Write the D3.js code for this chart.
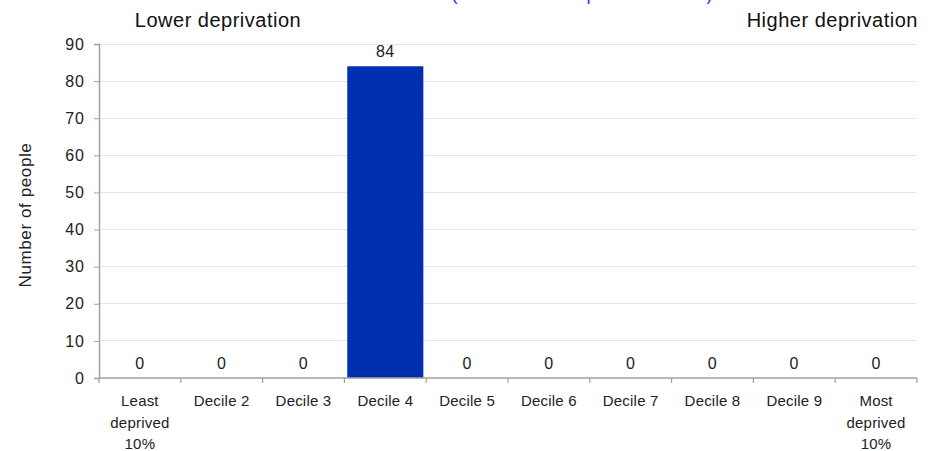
<!DOCTYPE html>
<html>
<head>
<meta charset="utf-8">
<script src="https://cdn.jsdelivr.net/npm/d3@7"></script>
<style>
  body { margin: 0; background: #fff; }
  svg { display: block; font-family: Arial, "Liberation Sans", sans-serif; }
</style>
</head>
<body>
<svg id="chart" width="930" height="451"></svg>
<script>
const categories = [
  ["Least", "deprived", "10%"],
  ["Decile 2"], ["Decile 3"], ["Decile 4"], ["Decile 5"], ["Decile 6"],
  ["Decile 7"], ["Decile 8"], ["Decile 9"],
  ["Most", "deprived", "10%"]
];
const values = [0, 0, 0, 84, 0, 0, 0, 0, 0, 0];
const yTicks = [0, 10, 20, 30, 40, 50, 60, 70, 80, 90];
const yLabel = "Number of people";
const leftNote = "Lower deprivation";
const rightNote = "Higher deprivation";
const clippedTitle = "(National IMD deprivation decile)";

const svg = d3.select("#chart");
const margin = { left: 99, right: 13, top: 44, bottom: 73 };
const W = 930, H = 451;

const n = categories.length;
const xEdge = d3.scaleLinear().domain([0, n]).range([margin.left, W - margin.right]);
const x = d3.scaleBand().domain(d3.range(n)).range([margin.left, W - margin.right])
  .paddingInner(0.07).paddingOuter(0.035);
const y = d3.scaleLinear().domain([0, 90]).range([H - margin.bottom, margin.top]);
const axisColor = "#a0a0a0";

// gridlines
svg.append("g").selectAll("line").data(yTicks.filter(t => t > 0)).join("line")
  .attr("x1", margin.left).attr("x2", W - margin.right)
  .attr("y1", d => y(d)).attr("y2", d => y(d))
  .attr("stroke", "#e6e6e6").attr("stroke-width", 1).attr("shape-rendering", "crispEdges");

// bars
svg.append("g").selectAll("rect").data(values).join("rect")
  .attr("x", (d, i) => x(i))
  .attr("width", x.bandwidth())
  .attr("y", d => y(d))
  .attr("height", d => y(0) - y(d))
  .attr("fill", "#0030b0");

// y axis
const yAxis = d3.axisLeft(y).tickValues(yTicks).tickSize(5).tickPadding(9);
const gy = svg.append("g").attr("transform", `translate(${margin.left},0)`).call(yAxis);
gy.select(".domain").attr("stroke", axisColor).attr("stroke-width", 1.5);
gy.selectAll(".tick line").attr("stroke", axisColor);
gy.selectAll("text").attr("font-size", 16).attr("letter-spacing", 1).attr("fill", "#222")
  .attr("font-family", "Arial, 'Liberation Sans', sans-serif");

// x axis with tick marks at category boundaries
const gx = svg.append("g").attr("transform", `translate(0,${y(0)})`);
gx.append("line").attr("x1", margin.left).attr("x2", W - margin.right)
  .attr("y1", 0).attr("y2", 0).attr("stroke", axisColor).attr("stroke-width", 1.5);
gx.selectAll("line.tk").data(d3.range(n + 1)).join("line").attr("class", "tk")
  .attr("x1", d => xEdge(d)).attr("x2", d => xEdge(d))
  .attr("y1", 0).attr("y2", 5).attr("stroke", axisColor).attr("stroke-width", 1.2);

// category labels
const lab = svg.append("g").selectAll("text").data(categories).join("text")
  .attr("text-anchor", "middle").attr("font-size", 15).attr("letter-spacing", 0.2).attr("fill", "#222");
lab.each(function(d, i) {
  const t = d3.select(this);
  d.forEach((line, j) => {
    t.append("tspan").attr("x", x(i) + x.bandwidth() / 2).attr("y", 406 + j * 21.5).text(line);
  });
});

// value labels
svg.append("g").selectAll("text").data(values).join("text")
  .attr("x", (d, i) => x(i) + x.bandwidth() / 2)
  .attr("y", d => y(d) - 9)
  .attr("text-anchor", "middle").attr("font-size", 16).attr("letter-spacing", 0.5).attr("fill", "#222")
  .text(d => d);

// y label
svg.append("text").attr("transform", "translate(31,215) rotate(-90)")
  .attr("text-anchor", "middle").attr("font-size", 17).attr("letter-spacing", 0.6)
  .attr("fill", "#222").text(yLabel);

// notes
svg.append("text").attr("x", 218).attr("y", 27).attr("text-anchor", "middle")
  .attr("font-size", 20).attr("letter-spacing", 0.5).attr("fill", "#111").text(leftNote);
svg.append("text").attr("x", 918).attr("y", 27).attr("text-anchor", "end")
  .attr("font-size", 20).attr("letter-spacing", 0.5).attr("fill", "#111").text(rightNote);

// clipped title (only descenders visible, as in the reference)
svg.append("text").attr("x", 582).attr("y", 0).attr("text-anchor", "middle")
  .attr("font-size", 18).attr("fill", "#1a3fd0").text(clippedTitle);
</script>
</body>
</html>
